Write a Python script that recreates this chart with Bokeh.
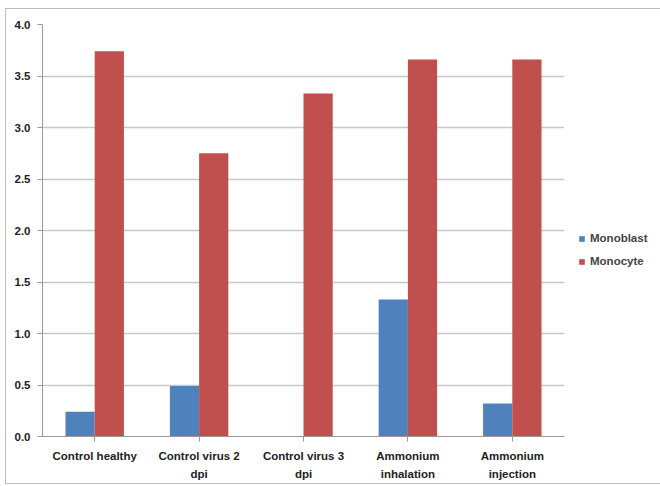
from bokeh.plotting import figure
from bokeh.models import FactorRange, Legend, LegendItem, ColumnDataSource, SingleIntervalTicker, CustomJSTickFormatter
from bokeh.transform import dodge
from bokeh.embed import file_html
from bokeh.resources import INLINE

categories = ["Control healthy", "Control virus 2\ndpi", "Control virus 3\ndpi",
              "Ammonium\ninhalation", "Ammonium\ninjection"]
monoblast = [0.24, 0.49, 0.0, 1.33, 0.32]
monocyte = [3.74, 2.75, 3.33, 3.66, 3.66]
series_names = ["Monoblast", "Monocyte"]
colors = ["#4F81BD", "#C0504D"]

src = ColumnDataSource(dict(cat=categories, mb=monoblast, mc=monocyte))

p = figure(x_range=FactorRange(*categories), y_range=(0, 4.0),
           frame_width=522, frame_height=412, output_backend="svg", toolbar_location=None,
           min_border_left=36, min_border_top=15, min_border_bottom=47, min_border_right=0)

bw = 0.28
r1 = p.vbar(x=dodge("cat", -bw / 2, range=p.x_range), top="mb", width=bw, source=src,
            fill_color=colors[0], line_color=None)
r2 = p.vbar(x=dodge("cat", bw / 2, range=p.x_range), top="mc", width=bw, source=src,
            fill_color=colors[1], line_color=None)

p.x_range.range_padding = 0.0
p.yaxis.ticker = SingleIntervalTicker(interval=0.5)
p.yaxis.formatter = CustomJSTickFormatter(code="return tick.toFixed(1);")

for ax in (p.xaxis[0], p.yaxis[0]):
    ax.major_label_text_font = "Liberation Sans"
    ax.major_label_text_font_style = "bold"
    ax.major_label_text_font_size = "11.5px"
    ax.major_label_text_color = "#222222"
    ax.axis_line_color = "#9a9a9a"
    ax.major_tick_line_color = "#9a9a9a"
    ax.minor_tick_line_color = None
p.xaxis.major_label_text_line_height = 1.55
p.yaxis.major_tick_in = 0
p.yaxis.major_tick_out = 5
p.xaxis.major_tick_in = 0
p.xaxis.major_tick_out = 5
p.yaxis.major_label_standoff = 7
p.xaxis.major_label_standoff = 8

p.xgrid.grid_line_color = None
p.ygrid.grid_line_color = "#c8c8c8"
p.ygrid.grid_line_width = 1.5
p.outline_line_color = None

legend = Legend(items=[LegendItem(label=series_names[0], renderers=[r1]),
                       LegendItem(label=series_names[1], renderers=[r2])],
                location=(14, 169), border_line_color=None, background_fill_alpha=0,
                label_text_font="Liberation Sans", label_text_font_style="bold",
                label_text_font_size="11.5px", glyph_width=7, glyph_height=7,
                spacing=11, label_standoff=5, padding=0, margin=0)
p.add_layout(legend, "right")
p.min_border_right = 84

p.styles = {"border": "1px solid #bbbbbb", "margin": "8px 0 0 5px"}

open("out.html", "w").write(file_html(p, INLINE))
